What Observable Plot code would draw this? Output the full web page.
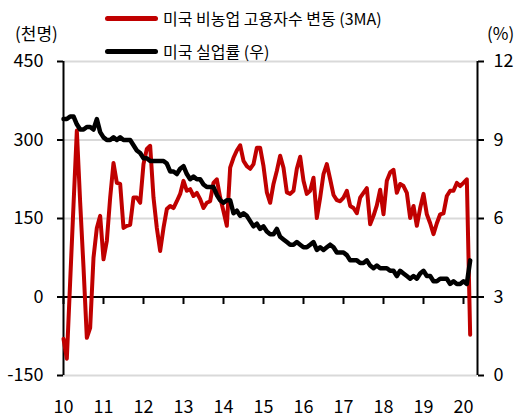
<!DOCTYPE html>
<html><head><meta charset="utf-8">
<script src="https://cdn.jsdelivr.net/npm/d3@7"></script>
<script src="https://cdn.jsdelivr.net/npm/@observablehq/plot@0.6"></script>
<style>
body{margin:0;background:#fff;font-family:"Noto Sans CJK KR","Noto Sans",sans-serif;}
#wrap{position:relative;width:520px;height:419px;}
.lg{position:absolute;font-size:16px;line-height:20px;height:20px;color:#000;white-space:nowrap;}
.sw{position:absolute;height:5px;border-radius:3px;width:53px;left:105px;}
#chart{position:absolute;left:0;top:0;}
</style></head><body>
<div id="wrap">
  <div id="chart"></div>
  <div class="sw" style="top:16px;background:#c00000"></div>
  <div class="lg" id="lg1" style="left:163px;top:8px"></div>
  <div class="sw" style="top:49px;background:#000"></div>
  <div class="lg" id="lg2" style="left:163px;top:41px"></div>
  <div class="lg" id="unitL" style="left:15px;top:23px;font-size:17px"></div>
  <div class="lg" id="unitR" style="left:487px;top:23px;font-size:17px"></div>
</div>
<script>
// ---- data ----
const seriesNames = ["미국 비농업 고용자수 변동 (3MA)", "미국 실업률 (우)"];
const unitLeft = "(천명)";
const unitRight = "(%)";
const startYear = 2010; // monthly from Jan 2010 to Mar 2020
const payrolls3ma = [
  -80, -118, 30, 175, 318, 181, 57, -78, -59, 75, 132, 155,
  72, 107, 190, 256, 218, 216, 132, 136, 138, 190, 190, 180,
  254, 283, 289, 190, 132, 88, 132, 168, 174, 170, 183, 197,
  222, 203, 206, 193, 199, 187, 170, 180, 183, 218, 225, 190,
  164, 136, 247, 266, 280, 290, 260, 250, 245, 254, 285, 285,
  250, 200, 180, 216, 241, 270, 247, 200, 197, 203, 245, 268,
  222, 197, 203, 228, 151, 190, 235, 254, 225, 195, 185, 183,
  190, 203, 174, 170, 160, 190, 199, 208, 139, 155, 175, 205,
  158, 222, 238, 243, 199, 216, 212, 199, 151, 174, 136, 170,
  197, 158, 141, 120, 141, 158, 160, 193, 203, 203, 218, 212,
  218, 225, -72
];
const unemployment = [
  9.8, 9.8, 9.9, 9.9, 9.6, 9.4, 9.4, 9.5, 9.5, 9.4, 9.8, 9.3,
  9.1, 9.0, 9.0, 9.1, 9.0, 9.1, 9.0, 9.0, 9.0, 8.8, 8.6, 8.5,
  8.3, 8.3, 8.2, 8.2, 8.2, 8.2, 8.2, 8.1, 7.8, 7.8, 7.7, 7.9,
  8.0, 7.7, 7.5, 7.6, 7.5, 7.5, 7.3, 7.2, 7.2, 7.2, 6.9, 6.7,
  6.6, 6.7, 6.7, 6.2, 6.3, 6.1, 6.2, 6.1, 5.9, 5.7, 5.8, 5.6,
  5.7, 5.5, 5.4, 5.4, 5.6, 5.3, 5.2, 5.1, 5.0, 5.0, 5.1, 5.0,
  4.9, 4.9, 5.0, 5.1, 4.8, 4.9, 4.8, 4.9, 5.0, 4.9, 4.7, 4.7,
  4.7, 4.6, 4.4, 4.4, 4.4, 4.3, 4.3, 4.4, 4.2, 4.1, 4.2, 4.1,
  4.1, 4.1, 4.0, 4.0, 3.8, 4.0, 3.9, 3.8, 3.7, 3.8, 3.7, 3.9,
  4.0, 3.8, 3.8, 3.6, 3.6, 3.7, 3.7, 3.7, 3.5, 3.6, 3.5, 3.5,
  3.6, 3.5, 4.4
];
const yearTicks = [2010, 2011, 2012, 2013, 2014, 2015, 2016, 2017, 2018, 2019, 2020];
const leftTicks = [-150, 0, 150, 300, 450];
const gridTicks = [-150, 150, 300, 450];
const xDomain = [2010, 2020.35];
const yDomain = [-150, 450];
// right axis (%) = left value / 50 + 3
const toLeft = u => (u - 3) * 50;
const toRight = v => v / 50 + 3;

// ---- build ----
const payRows = payrolls3ma.map((v, i) => ({t: startYear + i / 12, v}));
const unRows = unemployment.map((u, i) => ({t: startYear + i / 12, v: toLeft(u)}));
const tickDown = {draw(ctx) { ctx.moveTo(0, 0); ctx.lineTo(0, 7); }};

const chart = Plot.plot({
  width: 520, height: 419,
  marginLeft: 63, marginRight: 43, marginTop: 61, marginBottom: 44,
  style: {fontFamily: '"Noto Sans CJK KR","Noto Sans",sans-serif', fontSize: "18px", color: "#000", background: "transparent"},
  x: {domain: xDomain},
  y: {domain: yDomain},
  marks: [
    Plot.gridY(gridTicks, {stroke: "#d9d9d9", strokeOpacity: 1, strokeWidth: 2}),
    Plot.ruleY([0], {stroke: "#000", strokeWidth: 2}),
    Plot.dot(yearTicks, {x: d => d, y: 0, symbol: tickDown, stroke: "#000", strokeWidth: 2, fill: "none"}),
    Plot.ruleX([xDomain[0]], {stroke: "#000", strokeWidth: 2}),
    Plot.ruleX([xDomain[1]], {stroke: "#000", strokeWidth: 2}),
    Plot.axisY(leftTicks, {anchor: "left", tickSize: 6, tickPadding: 14, strokeWidth: 2, label: null, tickFormat: d => String(d)}),
    Plot.axisY(leftTicks, {anchor: "right", tickSize: 6, tickPadding: 10, strokeWidth: 2, label: null, tickFormat: d => String(toRight(d))}),
    Plot.axisX(yearTicks, {anchor: "bottom", tickSize: 0, tickPadding: 25, label: null, tickFormat: d => String(d % 100)}),
    Plot.line(payRows, {x: "t", y: "v", stroke: "#c00000", strokeWidth: 4, strokeLinejoin: "round"}),
    Plot.line(unRows, {x: "t", y: "v", stroke: "#000", strokeWidth: 4.5, strokeLinejoin: "round"})
  ]
});
document.getElementById("chart").appendChild(chart);
document.getElementById("lg1").textContent = seriesNames[0];
document.getElementById("lg2").textContent = seriesNames[1];
document.getElementById("unitL").textContent = unitLeft;
document.getElementById("unitR").textContent = unitRight;
</script>
</body></html>
